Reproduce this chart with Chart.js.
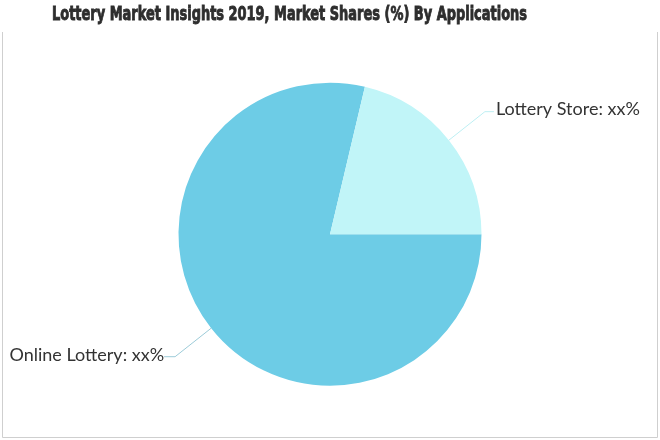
<!DOCTYPE html>
<html>
<head>
<meta charset="utf-8">
<script src="https://cdn.jsdelivr.net/npm/chart.js@4/dist/chart.umd.min.js"></script>
<style>
  html, body { margin: 0; padding: 0; background: #fff; }
  #wrap { width: 660px; height: 440px; position: relative; }
</style>
</head>
<body>
<div id="wrap"><canvas id="c" width="660" height="440"></canvas></div>
<script>
const titleText = "Lottery Market Insights 2019, Market Shares (%) By Applications";
const categories = ["Online Lottery", "Lottery Store"];
const shares = [78.7, 21.3];
const valueLabels = ["xx%", "xx%"];
const sliceColors = ["#6DCCE6", "#C1F5F8"];
const lineColors = ["#9CCBD8", "#BDEFF3"];

const framePlugin = {
  id: "frame",
  beforeDraw(chart) {
    const ctx = chart.ctx;
    ctx.save();
    ctx.strokeStyle = "#cfcfcf";
    ctx.lineWidth = 1;
    ctx.beginPath();
    ctx.moveTo(2.5, 32); ctx.lineTo(2.5, 437.5);
    ctx.lineTo(657.5, 437.5); ctx.lineTo(657.5, 32);
    ctx.stroke();
    // title
    ctx.fillStyle = "#2e2e2e";
    ctx.strokeStyle = "#2e2e2e";
    ctx.lineWidth = 0.9;
    ctx.font = "bold 20px 'Liberation Sans Narrow', 'DejaVu Sans Condensed', sans-serif";
    ctx.textBaseline = "alphabetic";
    ctx.textAlign = "left";
    const w = ctx.measureText(titleText).width;
    const target = 475;
    ctx.translate(52, 19.5);
    ctx.scale(target / w, 1);
    ctx.fillText(titleText, 0, 0);
    ctx.strokeText(titleText, 0, 0);
    ctx.restore();
  }
};

const labelPlugin = {
  id: "pieLabels",
  afterDatasetsDraw(chart) {
    const ctx = chart.ctx;
    const meta = chart.getDatasetMeta(0);
    ctx.save();
    ctx.font = "18px Lato, 'Open Sans', sans-serif";
    ctx.fillStyle = "#333333";
    ctx.textBaseline = "middle";
    meta.data.forEach((arc, i) => {
      const p = arc.getProps(["x", "y", "startAngle", "endAngle", "outerRadius"], true);
      const mid = (p.startAngle + p.endAngle) / 2;
      const cx = Math.cos(mid), cy = Math.sin(mid);
      const x0 = p.x + cx * p.outerRadius, y0 = p.y + cy * p.outerRadius;
      const x1 = p.x + cx * (p.outerRadius + 46), y1 = p.y + cy * (p.outerRadius + 46);
      const right = cx >= 0;
      const x2 = x1 + (right ? 9 : -11);
      ctx.strokeStyle = lineColors[i];
      ctx.lineWidth = 1;
      ctx.beginPath();
      ctx.moveTo(x0, y0); ctx.lineTo(x1, y1); ctx.lineTo(x2, y1);
      ctx.stroke();
      const txt = categories[i] + ": " + valueLabels[i];
      ctx.textAlign = right ? "left" : "right";
      ctx.fillText(txt, x2 + (right ? 2 : 0), y1 - 2);
    });
    ctx.restore();
  }
};

new Chart(document.getElementById("c"), {
  type: "pie",
  data: {
    labels: categories,
    datasets: [{
      data: shares,
      backgroundColor: sliceColors,
      borderWidth: 0,
      hoverOffset: 0
    }]
  },
  options: {
    responsive: false,
    animation: false,
    rotation: 90,
    layout: { padding: { top: 82.7, bottom: 54.3, left: 0, right: 0 } },
    plugins: {
      legend: { display: false },
      title: { display: false },
      tooltip: { enabled: false }
    }
  },
  plugins: [framePlugin, labelPlugin]
});
</script>
</body>
</html>
